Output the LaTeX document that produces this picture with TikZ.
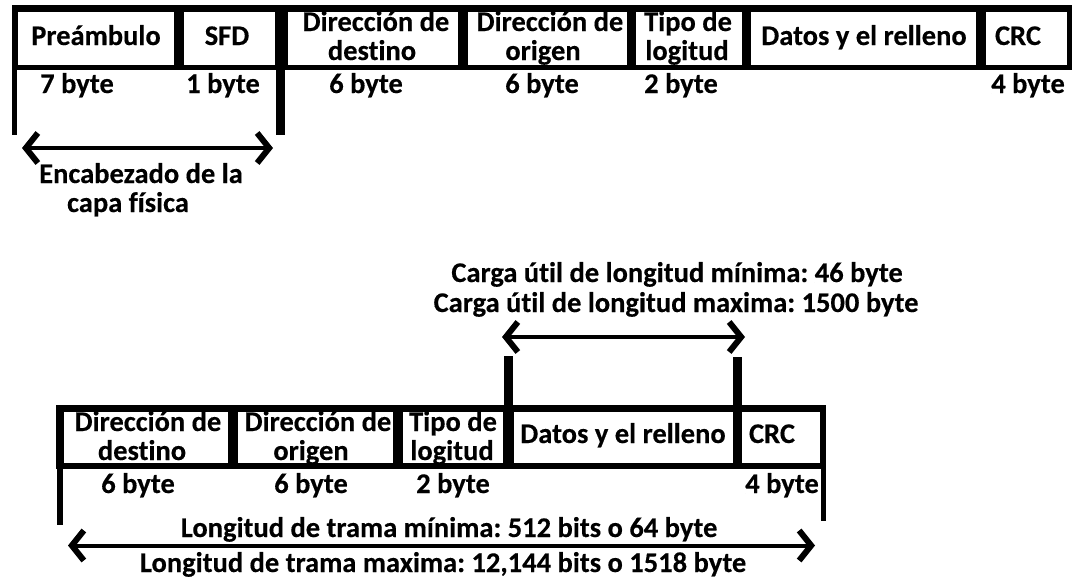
\documentclass[tikz,border=0pt]{standalone}
\usepackage{fontspec}
\setmainfont{Carlito}[Ligatures=NoCommon, BoldFeatures={FakeBold=0.3}]
\usetikzlibrary{arrows.meta}
\frenchspacing
\begin{document}
\begin{tikzpicture}[x=1pt,y=-1pt,
  lbl/.style={font=\bfseries\fontsize{28.5}{29}\selectfont, inner sep=0pt, anchor=base},
  band/.style={fill=black},
  cellbox/.style={fill=white, draw=black, line width=1pt},
  bar/.style={line width=#1, line cap=butt},
  dimarrow/.style={line width=4pt, {Straight Barb[length=12pt,width=30pt,line width=6pt]}-{Straight Barb[length=12pt,width=30pt,line width=6pt]}}
]
\useasboundingbox[fill=white] (0,0) rectangle (1076,579);

% ---------- Ethernet frame with physical-layer header ----------
\fill[band] (12,5) rectangle (1072,70);
\draw[cellbox] (17,11)  rectangle (174,65);
\draw[cellbox] (183,11) rectangle (275,65);
\draw[cellbox] (287,11) rectangle (458,65);
\draw[cellbox] (467,11) rectangle (627,65);
\draw[cellbox] (635,11) rectangle (742,65);
\draw[cellbox] (750,11) rectangle (976,65);
\draw[cellbox] (985,11) rectangle (1067,65);
\draw[bar=5pt] (14.5,70) -- (14.5,135);
\draw[bar=9pt] (280,70) -- (280,135);

\node[lbl] (pre)  at (96,45)  {Preámbulo};
\node[lbl] (sfd)  at (227,45) {SFD};
\node[lbl] (dst1) at (376,31) {Dirección de};
\node[lbl] (dst2) at (372,60) {destino};
\node[lbl] (src1) at (550,31) {Dirección de};
\node[lbl] (src2) at (543,60) {origen};
\node[lbl] (typ1) at (688,31) {Tipo de};
\node[lbl] (typ2) at (687,60) {logitud};
\node[lbl] (dat)  at (864,45) {Datos y el relleno};
\node[lbl] (crc)  at (1018,45) {CRC};

\node[lbl] (bpre) at (77,93)   {7 byte};
\node[lbl] (bsfd) at (223,93)  {1 byte};
\node[lbl] (bdst) at (366,93)  {6 byte};
\node[lbl] (bsrc) at (542,93)  {6 byte};
\node[lbl] (btyp) at (681,93)  {2 byte};
\node[lbl] (bcrc) at (1028,93) {4 byte};

\coordinate (hdrL) at (22,148);
\coordinate (hdrR) at (273,148);
\draw[dimarrow] (hdrL) -- (hdrR);
\node[lbl] (hdr1) at (141,183) {Encabezado de la};
\node[lbl] (hdr2) at (128,212) {capa física};

% ---------- MAC frame ----------
\node[lbl] (pay1) at (677,282) {Carga útil de longitud mínima: 46 byte};
\node[lbl] (pay2) at (676,312) {Carga útil de longitud maxima: 1500 byte};
\coordinate (payL) at (502,337);
\coordinate (payR) at (745,337);
\draw[dimarrow] (payL) -- (payR);

\fill[band] (56,405) rectangle (826,469);
\draw[cellbox] (63,411)  rectangle (228,463);
\draw[cellbox] (237,411) rectangle (393,463);
\draw[cellbox] (402,411) rectangle (503,463);
\draw[cellbox] (513,411) rectangle (733,463);
\draw[cellbox] (741,411) rectangle (820,463);
\draw[bar=9pt] (508,356) -- (508,466);
\draw[bar=9pt] (737,357) -- (737,466);
\draw[bar=6pt] (59.5,469) -- (59.5,525);
\draw[bar=5pt] (823,469) -- (823,521);

\node[lbl] (mdst1) at (148,431) {Dirección de};
\node[lbl] (mdst2) at (142,460) {destino};
\node[lbl] (msrc1) at (318,431) {Dirección de};
\node[lbl] (msrc2) at (311,460) {origen};
\node[lbl] (mtyp1) at (453,431) {Tipo de};
\node[lbl] (mtyp2) at (452,460) {logitud};
\node[lbl] (mdat)  at (623,443) {Datos y el relleno};
\node[lbl] (mcrc)  at (772,443) {CRC};

\node[lbl] (mbdst) at (138,493) {6 byte};
\node[lbl] (mbsrc) at (311,493) {6 byte};
\node[lbl] (mbtyp) at (453,493) {2 byte};
\node[lbl] (mbcrc) at (782,493) {4 byte};

\node[lbl] (len1) at (449,537) {Longitud de trama mínima: 512 bits o 64 byte};
\coordinate (frmL) at (68,545.5);
\coordinate (frmR) at (815,545.5);
\draw[dimarrow] (frmL) -- (frmR);
\node[lbl] (len2) at (443,572) {Longitud de trama maxima: 12,144 bits o 1518 byte};
\end{tikzpicture}
\end{document}
